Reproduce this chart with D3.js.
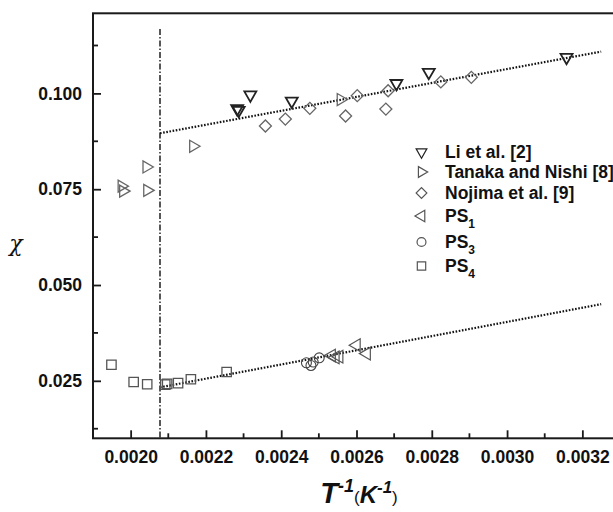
<!DOCTYPE html>
<html>
<head>
<meta charset="utf-8">
<script src="https://cdn.jsdelivr.net/npm/d3@7"></script>
<style>
  body { margin: 0; background: #fff; }
  svg { display: block; }
</style>
</head>
<body>
<div id="chart"></div>
<script>
// Data: [T^-1 (1/K), chi]
const liEtAl = [[0.002283, 0.0960], [0.002287, 0.0956], [0.002318, 0.0996], [0.002428, 0.0980],
  [0.002706, 0.1026], [0.002792, 0.1055], [0.003158, 0.1094]];
const tanakaNishi = [[0.001976, 0.0758], [0.001980, 0.0745], [0.002042, 0.0808], [0.002044, 0.0747],
  [0.002166, 0.0862], [0.002558, 0.0984]];
const nojima = [[0.002358, 0.0915], [0.002411, 0.0933], [0.002476, 0.0961], [0.002571, 0.0941],
  [0.002602, 0.0994], [0.002678, 0.0959], [0.002684, 0.1007], [0.002824, 0.1030], [0.002905, 0.1042]];
const ps1 = [[0.002534, 0.0316], [0.002544, 0.0311], [0.002554, 0.0313], [0.002600, 0.0343], [0.002627, 0.0321]];
const ps3 = [[0.002467, 0.0297], [0.002479, 0.0290], [0.002485, 0.0299], [0.002501, 0.0310]];
const ps4 = [[0.001949, 0.0292], [0.002008, 0.0247], [0.002044, 0.0241], [0.002092, 0.0240],
  [0.002097, 0.0242], [0.002126, 0.0244], [0.002160, 0.0254], [0.002255, 0.0273]];

// fitted lines and the transition line
const fitX = [0.002078, 0.00325];
const upperFit = [0.0896, 0.1109];
const lowerFit = [0.0233, 0.0450];
const transitionX = 0.002078;
const transitionTop = 0.1168;

const xTicks = [0.0020, 0.0022, 0.0024, 0.0026, 0.0028, 0.0030, 0.0032];
const xMinor = [0.0019, 0.0021, 0.0023, 0.0025, 0.0027, 0.0029, 0.0031];
const yTicks = [0.025, 0.050, 0.075, 0.100];
const yMinor = [0.0125, 0.0375, 0.0625, 0.0875, 0.1125];

const legendLabels = ["Li et al. [2]", "Tanaka and Nishi [8]", "Nojima et al. [9]", "PS", "PS", "PS"];
const legendSubs = ["", "", "", "1", "3", "4"];

const width = 613, height = 512;
const svg = d3.select("#chart").append("svg")
  .attr("width", width).attr("height", height)
  .style("font-family", "'Liberation Sans', Arial, sans-serif");

const x = d3.scaleLinear().domain([0.0019, 0.0033]).range([93, 620]);
const y = d3.scaleLinear().domain([0.010, 0.1209]).range([438.3, 13.3]);

const axisColor = "#1a1a1a";

// frame (left, top, bottom; right edge falls outside the window)
svg.append("rect")
  .attr("x", x(0.0019)).attr("y", y(0.1209))
  .attr("width", x(0.0033) - x(0.0019)).attr("height", y(0.010) - y(0.1209))
  .attr("fill", "none").attr("stroke", axisColor).attr("stroke-width", 2);

// x axis, ticks inward
const xAxis = d3.axisBottom(x).tickValues(xTicks).tickSizeInner(-8).tickSizeOuter(0)
  .tickPadding(12).tickFormat(d3.format(".4f"));
const gx = svg.append("g").attr("transform", `translate(0,${y(0.010)})`).call(xAxis);
gx.select(".domain").remove();
gx.selectAll("line").attr("stroke", axisColor).attr("stroke-width", 1.8);
gx.selectAll("text").attr("font-size", 17.5).attr("font-weight", "bold").attr("fill", "#111")
  .attr("font-family", "'Liberation Sans', Arial, sans-serif");

svg.append("g").selectAll("line").data(xMinor).join("line")
  .attr("x1", d => x(d)).attr("x2", d => x(d))
  .attr("y1", y(0.010)).attr("y2", y(0.010) - 5)
  .attr("stroke", axisColor).attr("stroke-width", 1.8);

// y axis, ticks inward
const yAxis = d3.axisLeft(y).tickValues(yTicks).tickSizeInner(-8).tickSizeOuter(0)
  .tickPadding(11).tickFormat(d3.format(".3f"));
const gy = svg.append("g").attr("transform", `translate(${x(0.0019)},0)`).call(yAxis);
gy.select(".domain").remove();
gy.selectAll("line").attr("stroke", axisColor).attr("stroke-width", 1.8);
gy.selectAll("text").attr("font-size", 17.5).attr("font-weight", "bold").attr("fill", "#111")
  .attr("font-family", "'Liberation Sans', Arial, sans-serif");

svg.append("g").selectAll("line").data(yMinor).join("line")
  .attr("x1", x(0.0019)).attr("x2", x(0.0019) + 5)
  .attr("y1", d => y(d)).attr("y2", d => y(d))
  .attr("stroke", axisColor).attr("stroke-width", 1.8);

// axis titles
svg.append("text")
  .attr("x", 16).attr("y", 251)
  .attr("text-anchor", "middle")
  .attr("font-family", "'DejaVu Serif', serif")
  .attr("font-style", "italic").attr("font-size", 22).attr("fill", "#111")
  .text("χ");

const title = svg.append("text")
  .attr("x", 359).attr("y", 503)
  .attr("text-anchor", "middle")
  .attr("font-weight", "bold").attr("fill", "#111");
title.append("tspan").attr("font-size", 29).attr("font-style", "italic").text("T");
title.append("tspan").attr("font-size", 18).attr("font-style", "italic").attr("dy", -11).text("-1");
title.append("tspan").attr("font-size", 17).attr("font-weight", "normal").attr("dy", 11).text("(");
title.append("tspan").attr("font-size", 24).attr("font-style", "italic").text("K");
title.append("tspan").attr("font-size", 17).attr("font-style", "italic").attr("dy", -10).text("-1");
title.append("tspan").attr("font-size", 17).attr("font-weight", "normal").attr("dy", 10).text(")");

// transition (dash-dot) line
svg.append("line")
  .attr("x1", x(transitionX)).attr("x2", x(transitionX))
  .attr("y1", y(transitionTop)).attr("y2", y(0.010))
  .attr("stroke", "#111").attr("stroke-width", 1.4)
  .attr("stroke-dasharray", "6,2,1.5,2");

// fitted dotted lines
const fitLine = d3.line().x(d => x(d[0])).y(d => y(d[1]));
[upperFit, lowerFit].forEach(fit => {
  svg.append("path")
    .datum(fitX.map((v, i) => [v, fit[i]]))
    .attr("d", fitLine)
    .attr("fill", "none").attr("stroke", "#111").attr("stroke-width", 2.2)
    .attr("stroke-dasharray", "1.6,1.6");
});

// series and markers
const series = [
  { data: liEtAl, type: d3.symbolTriangle, rotate: 180, size: 62, color: "#222", width: 1.8 },
  { data: tanakaNishi, type: d3.symbolTriangle, rotate: 90, size: 62, color: "#666", width: 1.3 },
  { data: nojima, type: d3.symbolSquare, rotate: 45, size: 72, color: "#666", width: 1.3 },
  { data: ps1, type: d3.symbolTriangle, rotate: -90, size: 70, color: "#555", width: 1.2 },
  { data: ps3, type: d3.symbolCircle, rotate: 0, size: 78, color: "#444", width: 1.1 },
  { data: ps4, type: d3.symbolSquare, rotate: 0, size: 88, color: "#555", width: 1.3 }
];

series.forEach(s => {
  svg.append("g").selectAll("path").data(s.data).join("path")
    .attr("d", d3.symbol().type(s.type).size(s.size))
    .attr("transform", d => `translate(${x(d[0])},${y(d[1])}) rotate(${s.rotate})`)
    .attr("fill", "none").attr("stroke", s.color).attr("stroke-width", s.width);
});

// legend
const legendRows = [152, 172, 193, 216, 242, 266];
const legend = svg.append("g");
series.forEach((s, i) => {
  legend.append("path")
    .attr("d", d3.symbol().type(s.type).size(s.size * 0.8))
    .attr("transform", `translate(421.5,${legendRows[i]}) rotate(${s.rotate})`)
    .attr("fill", "none").attr("stroke", i === 0 ? "#222" : "#555").attr("stroke-width", 1.2);
  const t = legend.append("text")
    .attr("x", 445).attr("y", legendRows[i] + 6)
    .attr("font-size", 17.5).attr("font-weight", "bold").attr("fill", "#111")
    .text(legendLabels[i]);
  if (legendSubs[i]) {
    t.append("tspan").attr("font-size", 12).attr("dy", 6).text(legendSubs[i]);
  }
});
</script>
</body>
</html>
